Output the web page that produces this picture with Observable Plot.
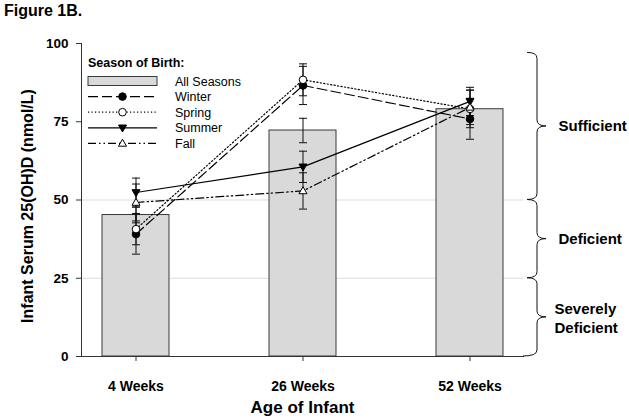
<!DOCTYPE html>
<html><head><meta charset="utf-8">
<script src="https://cdn.jsdelivr.net/npm/d3@7"></script>
<script src="https://cdn.jsdelivr.net/npm/@observablehq/plot@0.6"></script>
<style>
body{margin:0;background:#fff;font-family:"Liberation Sans",Arial,sans-serif;}
#title{height:22px;line-height:22px;font-size:16px;font-weight:bold;padding-left:4px;color:#000;}
</style></head><body>
<div id="title">Figure 1B.</div>
<div id="wrap"></div>
<script>
// ---- data ----
const ages = ["4 Weeks", "26 Weeks", "52 Weeks"];
const allSeasons = [45.2, 72.2, 79.0];
const allSeasonsSE = [2.5, 3.9, 3.5];
const seasons = ["Winter", "Spring", "Summer", "Fall"];
const winter = [39.1, 86.6, 75.9];
const winterSE = [6.4, 6.1, 6.5];
const spring = [40.7, 88.4, 79.1];
const springSE = [5.0, 5.1, 6.0];
const summer = [52.4, 60.6, 81.5];
const summerSE = [4.6, 5.0, 4.5];
const fall = [49.2, 52.9, 79.6];
const fallSE = [5.9, 5.8, 5.5];
const yTicks = [0, 25, 50, 75, 100];
const gridValues = [25, 50];
const statusLabels = ["Sufficient", "Deficient", "Severely\nDeficient"];
const statusLow = [50, 25, 0];
const statusHigh = [97, 50, 25];

// ---- symbols ----
const capSym = {draw(ctx, size){const r = Math.sqrt(size/Math.PI); ctx.moveTo(-r,0); ctx.lineTo(r,0);}};
const triDown = {draw(ctx, size){const r = Math.sqrt(size/Math.PI); const h = r*1.75;
  ctx.moveTo(-r,-h*0.4); ctx.lineTo(r,-h*0.4); ctx.lineTo(0,h*0.6); ctx.closePath();}};
const triUp = {draw(ctx, size){const r = Math.sqrt(size/Math.PI); const h = r*1.75;
  ctx.moveTo(-r,h*0.4); ctx.lineTo(r,h*0.4); ctx.lineTo(0,-h*0.6); ctx.closePath();}};

const seriesValues = [winter, spring, summer, fall];
const seriesSE = [winterSE, springSE, summerSE, fallSE];
const seriesStyle = [
  {dash: "10,4", symbol: "circle", fill: "black"},
  {dash: "1.2,2.3", symbol: "circle", fill: "white"},
  {dash: null, symbol: triDown, fill: "black"},
  {dash: "8,3,1.5,3,1.5,3", symbol: triUp, fill: "white"}
];

const barRows = ages.map((a, i) => ({age: a, y: allSeasons[i], lo: allSeasons[i] - allSeasonsSE[i], hi: allSeasons[i] + allSeasonsSE[i]}));
const seriesRows = seasons.map((s, k) => ages.map((a, i) => ({
  season: s, age: a, y: seriesValues[k][i],
  lo: seriesValues[k][i] - seriesSE[k][i], hi: seriesValues[k][i] + seriesSE[k][i]
})));
const capRows = rows => rows.flatMap(d => [{age: d.age, v: d.lo}, {age: d.age, v: d.hi}]);
const statusRows = statusLabels.map((t, i) => ({t, y: (statusLow[i] + statusHigh[i]) / 2, two: t.includes("\n")}));

const W = 629, H = 398, mL = 81, mR = 106, mT = 21, mB = 64;

const marks = [
  Plot.ruleY(gridValues, {stroke: "#dcdcdc", strokeWidth: 1}),
  Plot.barY(barRows, {x: "age", y: "y", fill: "#d9d9d9", stroke: "#3a3a3a", strokeWidth: 1}),
  Plot.ruleX(barRows, {x: "age", y1: "lo", y2: "hi", stroke: "#111", strokeWidth: 1}),
  Plot.dot(capRows(barRows), {x: "age", y: "v", symbol: capSym, r: 4, stroke: "#111", fill: "none", strokeWidth: 1})
];
seriesRows.forEach(rows => {
  marks.push(Plot.ruleX(rows, {x: "age", y1: "lo", y2: "hi", stroke: "#111", strokeWidth: 1}));
  marks.push(Plot.dot(capRows(rows), {x: "age", y: "v", symbol: capSym, r: 4, stroke: "#111", fill: "none", strokeWidth: 1}));
});
seriesRows.forEach((rows, k) => {
  const st = seriesStyle[k];
  marks.push(Plot.lineY(rows, {x: "age", y: "y", stroke: "black", strokeWidth: 1.2, strokeDasharray: st.dash}));
});
seriesRows.forEach((rows, k) => {
  const st = seriesStyle[k];
  marks.push(Plot.dot(rows, {x: "age", y: "y", symbol: st.symbol, r: st.symbol === "circle" ? 3.8 : 4, fill: st.fill, stroke: "black", strokeWidth: 1}));
});
marks.push(
  Plot.frame({anchor: "left", stroke: "#333"}),
  Plot.frame({anchor: "bottom", stroke: "#333"}),
  Plot.axisY({ticks: yTicks, tickSize: 5, tickPadding: 8, fontSize: 13.5, fontWeight: "bold", label: null, stroke: "#333"}),
  Plot.axisX({tickSize: 5, tickPadding: 20, fontSize: 14, fontWeight: "bold", label: null, stroke: "#333"}),
  Plot.text(["Infant Serum 25(OH)D (nmol/L)"], {frameAnchor: "left", textAnchor: "middle", dx: -54, dy: 6, rotate: -90, fontSize: 16, fontWeight: "bold", fill: "black"}),
  Plot.text(["Age of Infant"], {frameAnchor: "bottom", dy: 56, fontSize: 17, fontWeight: "bold", fill: "black"}),
  Plot.text(statusRows, {filter: d => !d.two, text: "t", y: "y", frameAnchor: "right", dx: 35, textAnchor: "start", fontSize: 15, fontWeight: "bold", fill: "black"}),
  Plot.text(statusRows, {filter: d => d.two, text: "t", y: "y", frameAnchor: "right", dx: 31, textAnchor: "start", fontSize: 15, fontWeight: "bold", fill: "black", lineHeight: 1.3})
);

const chart = Plot.plot({
  width: W, height: H, marginLeft: mL, marginRight: mR, marginTop: mT, marginBottom: mB,
  style: {fontFamily: "Liberation Sans, Arial, sans-serif", color: "black", background: "white"},
  x: {domain: ages, paddingInner: 0.6, paddingOuter: 0.12, axis: null},
  y: {domain: [0, 100], axis: null},
  marks
});
document.getElementById("wrap").appendChild(chart);

// ---- braces (using the y scale) ----
const ys = chart.scale("y");
const svg = d3.select(chart);
const xr = W - mR;
const x0 = xr + 4, xv = xr + 14, xt = xr + 23, rr = 6;
statusLow.forEach((lo, i) => {
  const y1 = ys.apply(statusHigh[i]), y2 = ys.apply(lo), m = (y1 + y2) / 2;
  const p = `M${x0},${y1} Q${xv},${y1} ${xv},${y1+rr} L${xv},${m-rr} Q${xv},${m} ${xt},${m} Q${xv},${m} ${xv},${m+rr} L${xv},${y2-rr} Q${xv},${y2} ${x0 - (i===2?4:0)},${y2}`;
  svg.append("path").attr("d", p).attr("fill", "none").attr("stroke", "#111").attr("stroke-width", 1);
});

// ---- legend ----
const lg = svg.append("g").attr("font-family", "Liberation Sans, Arial, sans-serif").attr("text-anchor", "start");
const lx0 = 88, lx1 = 157, ltx = 175, ly0 = 81 - 22, lstep = 15.6;
lg.append("text").attr("x", lx0).attr("y", ly0 - 19 + 4.5).attr("font-size", 12.5).attr("font-weight", "bold").attr("text-anchor", "start").text("Season of Birth:");
const legendNames = ["All Seasons", ...seasons];
legendNames.forEach((name, i) => {
  const y = ly0 + i * lstep;
  if (i === 0) {
    lg.append("rect").attr("x", lx0).attr("y", y - 4.5).attr("width", lx1 - lx0).attr("height", 9)
      .attr("fill", "#d9d9d9").attr("stroke", "#3a3a3a");
  } else {
    const st = seriesStyle[i - 1];
    lg.append("line").attr("x1", lx0).attr("x2", lx1).attr("y1", y).attr("y2", y)
      .attr("stroke", "black").attr("stroke-width", 1.2).attr("stroke-dasharray", st.dash);
    const cx = (lx0 + lx1) / 2;
    if (st.symbol === "circle") {
      lg.append("circle").attr("cx", cx).attr("cy", y).attr("r", 3.8).attr("fill", st.fill).attr("stroke", "black");
    } else {
      lg.append("path").attr("transform", `translate(${cx},${y})`).attr("d", d3.symbol(st.symbol, 16 * Math.PI)())
        .attr("fill", st.fill).attr("stroke", "black");
    }
  }
  lg.append("text").attr("x", ltx).attr("y", y + 4.5).attr("font-size", 12.5).attr("text-anchor", "start").text(name);
});
</script>
</body></html>
